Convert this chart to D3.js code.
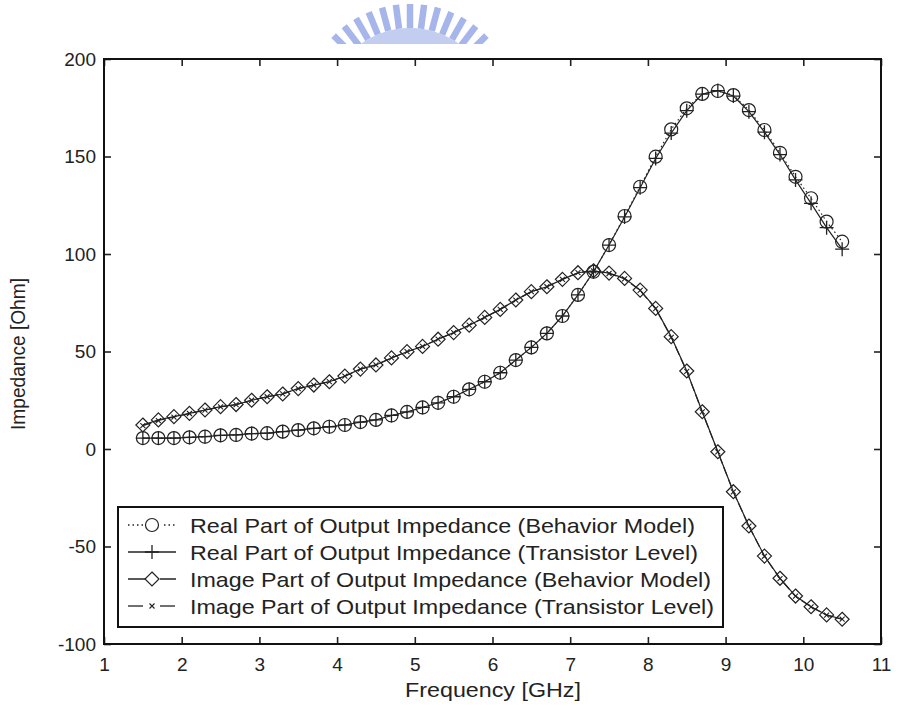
<!DOCTYPE html>
<html><head><meta charset="utf-8">
<script src="https://cdn.jsdelivr.net/npm/d3@7/dist/d3.min.js"></script>
<style>body{margin:0;background:#fff}svg{display:block}text{font-family:"Liberation Sans",Arial,sans-serif;fill:#222}</style>
</head><body><div id="chart"></div>
<script>
const freq = [1.5,1.7,1.9,2.1,2.3,2.5,2.7,2.9,3.1,3.3,3.5,3.7,3.9,4.1,4.3,4.5,4.7,4.9,5.1,5.3,5.5,5.7,5.9,6.1,6.3,6.5,6.7,6.9,7.1,7.3,7.5,7.7,7.9,8.1,8.3,8.5,8.7,8.9,9.1,9.3,9.5,9.7,9.9,10.1,10.3,10.5];
const realBehavior = [5.6,5.6,5.6,6.0,6.3,7.0,7.2,7.9,8.1,8.9,9.7,10.6,11.4,12.3,13.8,14.9,17.2,19.0,21.3,23.7,26.8,30.6,34.5,39.1,45.6,52.1,59.3,68.2,79.0,90.9,104.6,119.5,134.5,149.9,163.9,174.7,182.1,183.6,181.5,173.8,163.6,151.9,139.6,128.6,116.6,106.3];
const realTransistor = [5.6,5.6,5.6,6.0,6.3,7.0,7.2,7.9,8.1,8.9,9.7,10.6,11.4,12.3,13.8,14.9,17.2,19.0,21.3,23.7,26.8,30.6,34.5,39.1,45.6,52.1,59.3,68.2,79.0,90.9,104.6,119.0,134.0,149.0,162.0,173.5,182.0,183.8,181.0,173.0,162.5,151.0,138.0,126.0,113.5,102.5];
const imagBehavior = [12.3,14.9,16.6,18.3,20.0,21.7,22.8,25.0,26.8,28.2,31.0,32.8,34.5,37.4,41.0,43.1,46.7,49.9,52.6,56.3,59.7,63.5,67.5,71.6,76.4,80.7,83.2,87.0,90.4,91.4,90.2,87.5,81.5,72.1,57.6,40.0,19.1,-1.4,-21.9,-39.5,-54.9,-66.3,-75.4,-80.9,-85.1,-87.3];
const imagTransistor = [12.0,14.6,16.4,18.2,19.9,21.6,22.8,25.0,26.8,28.3,31.0,32.8,34.6,37.4,41.0,43.1,46.7,49.9,52.6,56.3,59.7,63.5,67.5,71.6,76.4,80.7,83.2,87.0,90.4,91.4,90.0,87.3,81.3,72.0,57.3,39.8,19.0,-1.5,-22.0,-39.6,-55.0,-66.5,-75.5,-81.0,-85.2,-87.3];
const xTicks = [1,2,3,4,5,6,7,8,9,10,11];
const yTicks = [-100,-50,0,50,100,150,200];
const legendLabels = [
  "Real Part of Output Impedance (Behavior Model)",
  "Real Part of Output Impedance (Transistor Level)",
  "Image Part of Output Impedance (Behavior Model)",
  "Image Part of Output Impedance (Transistor Level)"
];
const xTitle = "Frequency [GHz]";
const yTitle = "Impedance [Ohm]";

const W = 900, H = 712;
const L = 104, R = 881, T = 59, B = 644;
const svg = d3.select("#chart").append("svg").attr("width", W).attr("height", H);
svg.append("rect").attr("width", W).attr("height", H).attr("fill", "#fff");

// watermark logo fragment
const logo = svg.append("g");
const lcx = 410, lcy = 112;
logo.append("clipPath").attr("id","lclip").append("rect").attr("x",0).attr("y",0).attr("width",W).attr("height",44);
const lg = logo.append("g").attr("clip-path","url(#lclip)");
lg.append("path").attr("d", d3.arc()({innerRadius:60,outerRadius:84,startAngle:-1.3,endAngle:1.3}))
  .attr("transform",`translate(${lcx},${lcy})`).attr("fill","#c3cdf0");
d3.range(-60, 61, 7.5).forEach(a => {
  const r = a * Math.PI / 180;
  lg.append("line").attr("x1", lcx + 84*Math.sin(r)).attr("y1", lcy - 84*Math.cos(r))
    .attr("x2", lcx + 108*Math.sin(r)).attr("y2", lcy - 108*Math.cos(r))
    .attr("stroke","#a6b5ea").attr("stroke-width",6.5);
});

const x = d3.scaleLinear().domain([1, 11]).range([L, R]);
const y = d3.scaleLinear().domain([-100, 200]).range([B, T]);
const fmt = d => String(d);

// axes
const gx = svg.append("g").attr("transform", `translate(0,${B})`)
  .call(d3.axisBottom(x).tickValues(xTicks).tickFormat(fmt).tickSize(-7).tickPadding(14));
const gxt = svg.append("g").attr("transform", `translate(0,${T})`)
  .call(d3.axisTop(x).tickValues(xTicks).tickFormat("").tickSize(-7));
const gy = svg.append("g").attr("transform", `translate(${L},0)`)
  .call(d3.axisLeft(y).tickValues(yTicks).tickFormat(fmt).tickSize(-7).tickPadding(8));
const gyr = svg.append("g").attr("transform", `translate(${R},0)`)
  .call(d3.axisRight(y).tickValues(yTicks).tickFormat("").tickSize(-7));
[gx,gxt,gy,gyr].forEach(g => {
  g.select(".domain").remove();
  g.selectAll(".tick line").attr("stroke","#222").attr("stroke-width",1.6);
  g.selectAll("text").attr("font-size", 19).attr("fill","#222").attr("font-family","Liberation Sans, Arial, sans-serif");
});

svg.append("rect").attr("x", L).attr("y", T).attr("width", R - L).attr("height", B - T)
  .attr("fill","none").attr("stroke","#111").attr("stroke-width",2);

// axis titles
svg.append("text").attr("x", 493).attr("y", 697).attr("text-anchor","middle").attr("font-size",21)
  .attr("textLength",176).attr("lengthAdjust","spacingAndGlyphs").text(xTitle);
svg.append("text").attr("transform","translate(25,354) rotate(-90)").attr("text-anchor","middle").attr("font-size",20)
  .attr("textLength",152).attr("lengthAdjust","spacingAndGlyphs").text(yTitle);

// series
const series = [
  {vals: realBehavior, dash: "1.5,3", marker: "circle"},
  {vals: realTransistor, dash: null, marker: "plus"},
  {vals: imagBehavior, dash: null, marker: "diamond"},
  {vals: imagTransistor, dash: "9,4", marker: "cross"}
];
const line = d3.line().x((d,i) => x(freq[i])).y(d => y(d));
function drawMarker(g, type, cx, cy) {
  const s = "#222";
  if (type === "circle") g.append("circle").attr("cx",cx).attr("cy",cy).attr("r",6.5).attr("fill","none").attr("stroke",s).attr("stroke-width",1.2);
  else if (type === "plus") g.append("path").attr("d",`M${cx-7},${cy}H${cx+7}M${cx},${cy-7}V${cy+7}`).attr("stroke",s).attr("stroke-width",1.3).attr("fill","none");
  else if (type === "diamond") g.append("path").attr("d",`M${cx},${cy-7}L${cx+7},${cy}L${cx},${cy+7}L${cx-7},${cy}Z`).attr("fill","none").attr("stroke",s).attr("stroke-width",1.2);
  else g.append("path").attr("d",`M${cx-2.5},${cy-2.5}L${cx+2.5},${cy+2.5}M${cx-2.5},${cy+2.5}L${cx+2.5},${cy-2.5}`).attr("stroke",s).attr("stroke-width",1.1);
}
series.forEach(sr => {
  svg.append("path").datum(sr.vals).attr("d", line).attr("fill","none").attr("stroke","#222")
    .attr("stroke-width", 1.2).attr("stroke-dasharray", sr.dash);
  const g = svg.append("g");
  sr.vals.forEach((v,i) => drawMarker(g, sr.marker, x(freq[i]), y(v)));
});

// legend
const lgd = svg.append("g");
lgd.append("rect").attr("x",118).attr("y",507).attr("width",605).attr("height",120)
  .attr("fill","#fff").attr("stroke","#111").attr("stroke-width",2);
const rowY = [525, 552, 579, 606];
const rowEnd = [695, 698, 711, 714];
series.forEach((sr,i) => {
  const yy = rowY[i];
  if (sr.marker === "cross") {
    lgd.append("line").attr("x1",128).attr("x2",143).attr("y1",yy).attr("y2",yy).attr("stroke","#222").attr("stroke-width",1.3);
    lgd.append("line").attr("x1",160).attr("x2",175).attr("y1",yy).attr("y2",yy).attr("stroke","#222").attr("stroke-width",1.3);
  } else {
    lgd.append("line").attr("x1",128).attr("x2",176).attr("y1",yy).attr("y2",yy).attr("stroke","#222")
      .attr("stroke-width",1.3).attr("stroke-dasharray", sr.dash);
  }
  if (sr.marker === "circle") lgd.append("rect").attr("x",145).attr("y",yy-8).attr("width",16).attr("height",16).attr("fill","#fff");
  if (sr.marker === "diamond") lgd.append("rect").attr("x",146).attr("y",yy-8).attr("width",14).attr("height",16).attr("fill","#fff");
  drawMarker(lgd, sr.marker, 152, yy);
  lgd.append("text").attr("x",190).attr("y",yy).attr("dy","0.36em").attr("font-size",21)
    .attr("textLength", rowEnd[i]-190).attr("lengthAdjust","spacingAndGlyphs").text(legendLabels[i]);
});
</script></body></html>
